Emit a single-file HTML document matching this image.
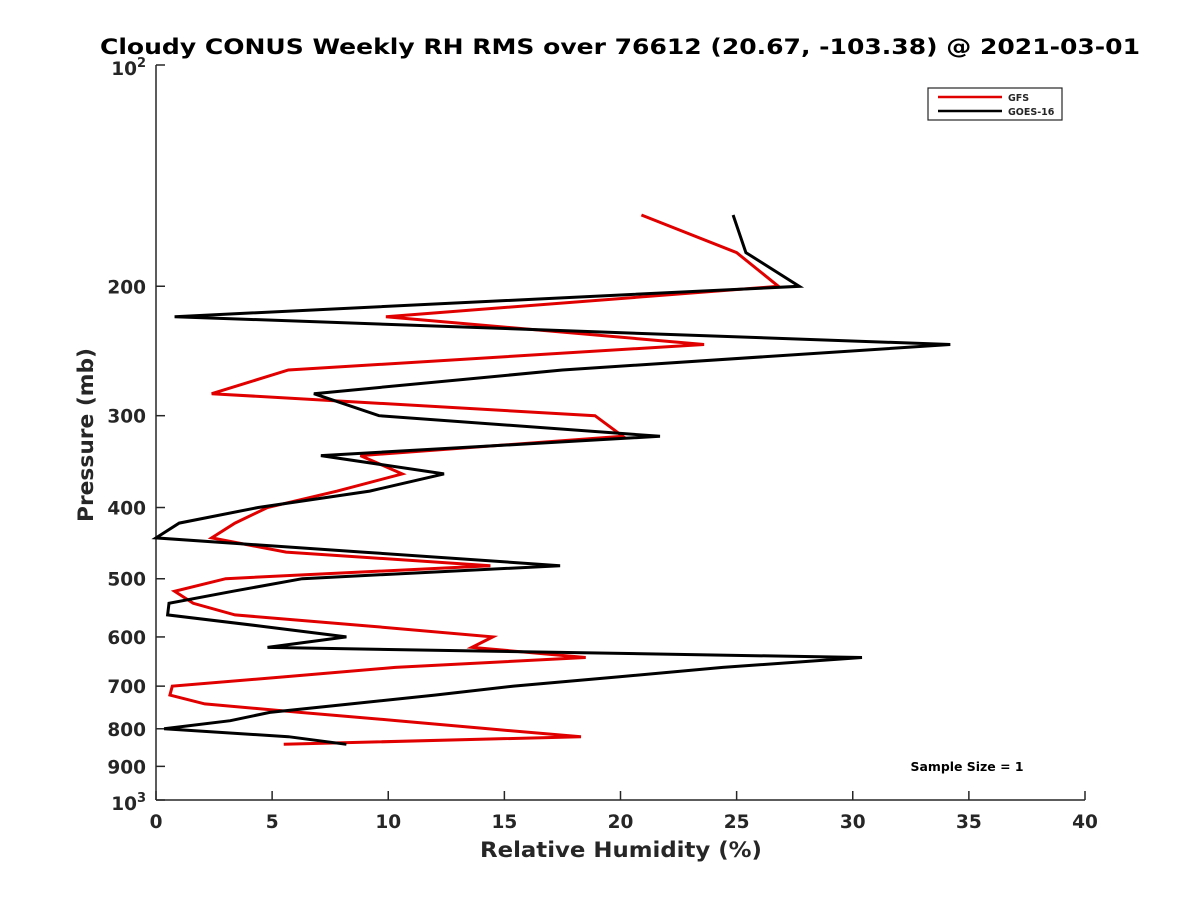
<!DOCTYPE html>
<html><head><meta charset="utf-8"><style>
body{margin:0;background:#fff;}
svg text{font-family:"DejaVu Sans","Liberation Sans",sans-serif;font-weight:bold;fill:#262626;}
</style></head><body>
<svg id="chart" width="1200" height="900" viewBox="0 0 1200 900" xmlns="http://www.w3.org/2000/svg">
<rect width="1200" height="900" fill="#fff"/>
<text x="620" y="54" text-anchor="middle" font-size="21.5" textLength="1040" lengthAdjust="spacingAndGlyphs" style="fill:#000">Cloudy CONUS Weekly RH RMS over 76612 (20.67, -103.38) @ 2021-03-01</text>
<g id="axes"></g>
<g id="series"></g>
<g>
<rect x="928" y="88" width="134" height="32" fill="#fff" stroke="#262626" stroke-width="1.2"/>
<line x1="938" y1="97" x2="1002" y2="97" stroke="#e00000" stroke-width="2.5"/>
<text x="1008" y="101" font-size="9.5">GFS</text>
<line x1="938" y1="111" x2="1002" y2="111" stroke="#000" stroke-width="2.5"/>
<text x="1008" y="115" font-size="9.5">GOES-16</text>
</g>
<text x="967" y="771" text-anchor="middle" font-size="12" textLength="113" lengthAdjust="spacingAndGlyphs" style="fill:#000">Sample Size = 1</text>
<text x="621" y="857" text-anchor="middle" font-size="21.5" textLength="282" lengthAdjust="spacingAndGlyphs">Relative Humidity (%)</text>
<text transform="translate(93,435) rotate(-90)" text-anchor="middle" font-size="21.5" textLength="174" lengthAdjust="spacingAndGlyphs">Pressure (mb)</text>
</svg>
<script>
const pressures=[160,180,200,220,240,260,280,300,320,340,360,380,400,420,440,460,480,500,520,540,560,580,600,620,640,660,680,700,720,740,760,780,800,820,840];
const gfsValues=[20.9,25.0,26.8,9.9,23.6,5.7,2.4,18.9,20.1,8.8,10.6,7.8,4.8,3.4,2.4,5.6,14.4,3.0,0.8,1.6,3.4,9.2,14.5,13.6,18.5,10.3,5.5,0.7,0.6,2.1,6.2,10.4,14.3,18.3,5.5];
const goesValues=[24.85,25.4,27.7,0.8,34.2,17.5,6.8,9.6,21.7,7.1,12.4,9.2,4.4,1.0,0.0,8.9,17.4,6.3,3.3,0.56,0.5,4.5,8.2,4.8,30.4,24.4,19.9,15.4,12.0,8.4,4.9,3.2,0.35,5.7,8.2];
const xTicks=[0,5,10,15,20,25,30,35,40];
const yTicks=[200,300,400,500,600,700,800,900];
const X0=156,X1=1085,Y0=65,Y1=800;
const xs=v=>X0+(v-0)/(40-0)*(X1-X0);
const ys=p=>Y0+Math.log10(p/100)*(Y1-Y0);
const NS='http://www.w3.org/2000/svg';
function mk(tag,attrs,parent,txt){const e=document.createElementNS(NS,tag);for(const k in attrs)e.setAttribute(k,attrs[k]);if(txt!==undefined)e.textContent=txt;parent.appendChild(e);return e;}
const ax=document.getElementById('axes');
let l=mk('line',{x1:X0,y1:Y0,x2:X0,y2:Y1,stroke:'#262626','stroke-width':1.5},ax);


l=mk('line',{x1:X0,y1:Y1,x2:X1,y2:Y1,stroke:'#262626','stroke-width':1.5},ax);


xTicks.forEach(v=>{const x=xs(v);
 const t=mk('line',{x1:x,y1:Y1,x2:x,y2:Y1-9,stroke:'#262626','stroke-width':1.5},ax);
 
 
 const tx=mk('text',{x:x,y:Y1+28,'text-anchor':'middle','font-size':18.5},ax,String(v));
 
 
});
yTicks.forEach(p=>{const y=ys(p);
 const t=mk('line',{x1:X0,y1:y,x2:X0+9,y2:y,stroke:'#262626','stroke-width':1.5},ax);
 
 
 const tx=mk('text',{x:X0-10,y:y+7,'text-anchor':'end','font-size':18.5},ax,String(p));
 
 
});
[[100,'2'],[1000,'3']].forEach(([p,e])=>{const y=ys(p);
 const t=mk('line',{x1:X0,y1:y,x2:X0+9,y2:y,stroke:'#262626','stroke-width':1.5},ax);
 
 
 const tx=mk('text',{x:X0-10,y:y+10,'text-anchor':'end','font-size':18.5},ax);
 
 
 mk('tspan',{},tx,'10');
 mk('tspan',{dy:-8,'font-size':13},tx,e);
});
const sg=document.getElementById('series');
function line(vals,color,name){
 const pts=vals.map((v,i)=>xs(v).toFixed(1)+','+ys(pressures[i]).toFixed(1)).join(' ');
 const pl=mk('polyline',{points:pts,fill:'none',stroke:color,'stroke-width':3,'stroke-linejoin':'miter'},sg);
 
 
}
line(gfsValues,'#e00000','gfs-line');
line(goesValues,'#000','goes16-line');
</script>
</body></html>
